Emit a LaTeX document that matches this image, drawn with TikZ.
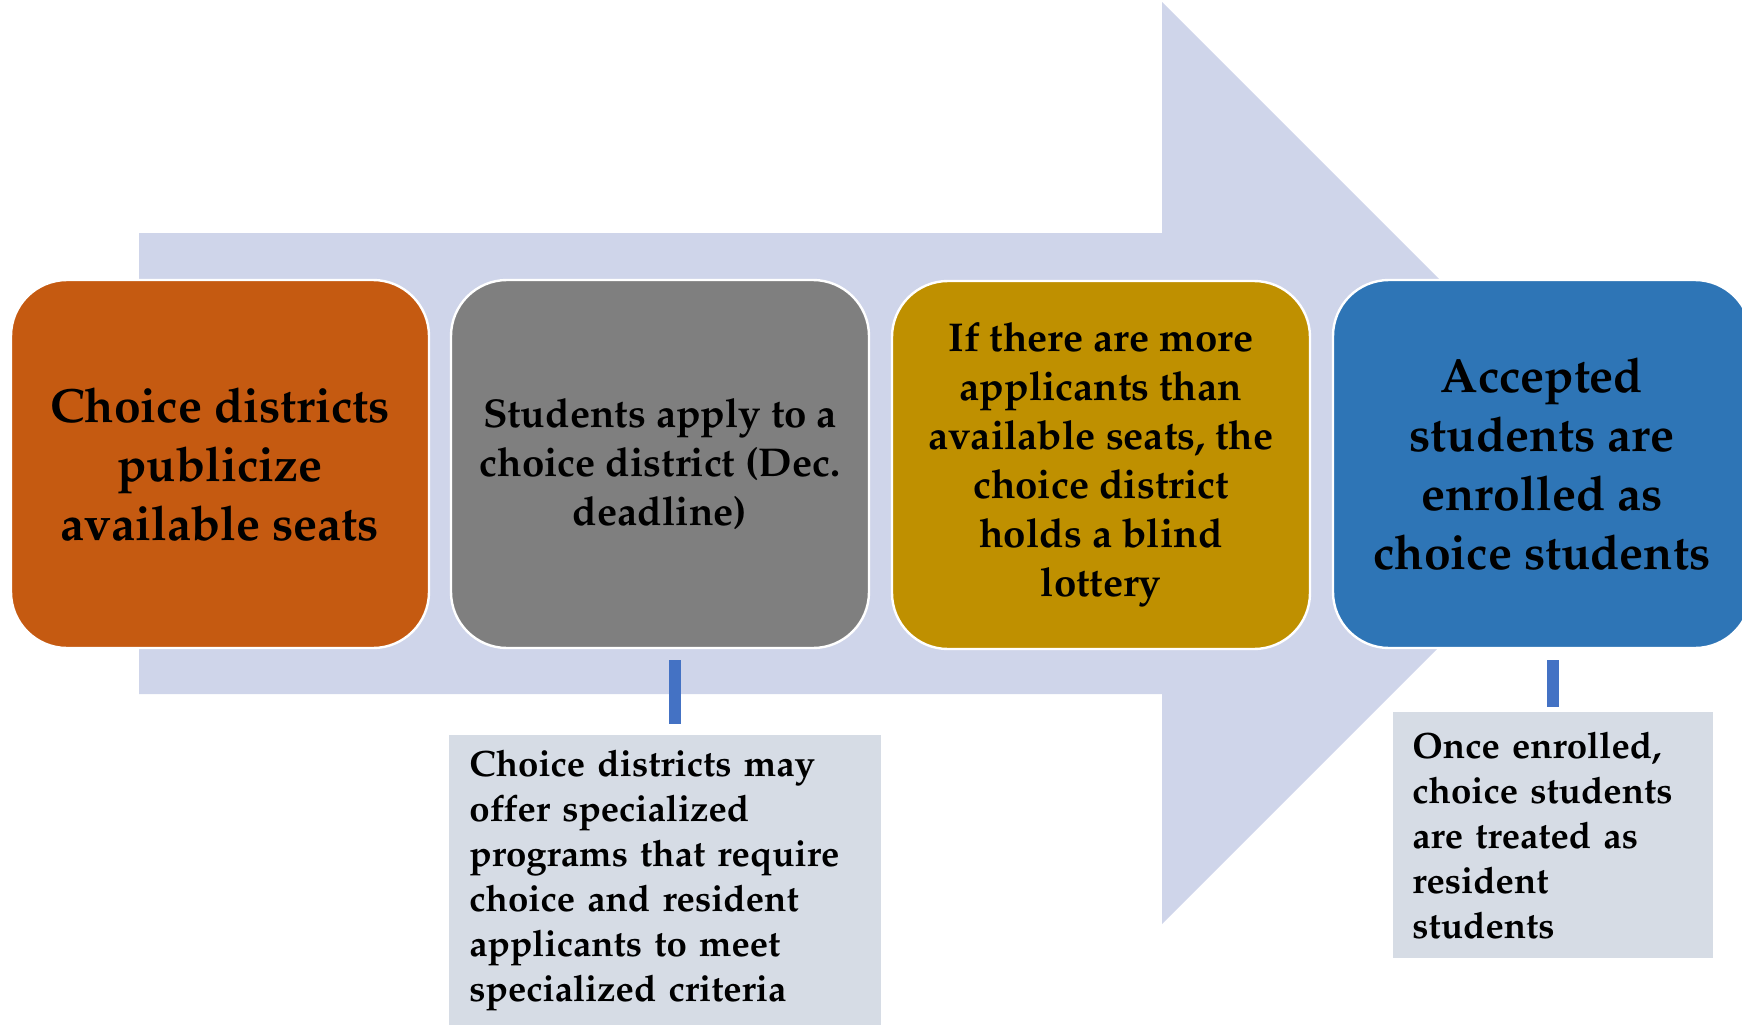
\documentclass[tikz,border=0pt]{standalone}
\usepackage[T1]{fontenc}
\usepackage{mathpazo}
\usetikzlibrary{calc}
\definecolor{arrowc}{HTML}{CFD5EA}
\definecolor{orgc}{HTML}{C55A11}
\definecolor{grayc}{HTML}{7F7F7F}
\definecolor{goldc}{HTML}{BF9000}
\definecolor{bluec}{HTML}{2E75B6}
\definecolor{notec}{HTML}{D6DCE5}
\definecolor{barc}{HTML}{4472C4}
\tikzset{
  stage/.style={draw=white, line width=1.2pt, rounded corners=28pt,
    minimum width=209pt, minimum height=184pt, align=center, inner sep=0pt},
  bigtxt/.style={font=\fontsize{24}{29.5}\selectfont\bfseries},
  midtxt/.style={font=\fontsize{20.1}{24.5}\selectfont\bfseries},
  note/.style={fill=notec, anchor=north west, align=left, inner ysep=0pt,
    font=\fontsize{18.3}{22.5}\selectfont\bfseries},
  bar/.style={draw=barc, line width=6pt}
}
\begin{document}
\begin{tikzpicture}[x=0.5pt,y=-0.5pt]
\useasboundingbox (0,0) rectangle (1742,1024);
% big background arrow
\fill[arrowc] (139,233) -- (1162,233) -- (1162,2) -- (1623,463) -- (1162,924)
  -- (1162,694) -- (139,694) -- cycle;
% stages
\node[stage, bigtxt, fill=orgc] (b1) at (220,464) {Choice districts\\publicize\\available seats};
\node[stage, midtxt, fill=grayc] (b2) at (660,464) {Students apply to a\\choice district (Dec.\\deadline)};
\node[stage, midtxt, fill=goldc] (b3) at (1101,465) {If there are more\\applicants than\\available seats, the\\choice district\\holds a blind\\lottery};
\node[stage, bigtxt, fill=bluec] (b4) at (1542,464) {Accepted\\students are\\enrolled as\\choice students};
% notes
\node[note, text width=196pt, inner xsep=10pt, minimum height=145pt] (n2) at (449,735)
  {\mbox{Choice districts may}\\\mbox{offer specialized}\\\mbox{programs that require}\\\mbox{choice and resident}\\\mbox{applicants to meet}\\\mbox{specialized criteria}};
\node[note, text width=141pt, inner xsep=9.5pt, minimum height=123pt] (n4) at (1393,712)
  {\mbox{Once enrolled,}\\\mbox{choice students}\\\mbox{are treated as}\\\mbox{resident}\\\mbox{students}};
% connectors
\coordinate (c2) at (675,0);
\coordinate (c4) at (1553,0);
\draw[bar] ([yshift=-5.5pt]b2.south -| c2) -- ([yshift=5.5pt]n2.north -| c2);
\draw[bar] ([yshift=-5.5pt]b4.south -| c4) -- ([yshift=2.5pt]n4.north -| c4);
\end{tikzpicture}
\end{document}
